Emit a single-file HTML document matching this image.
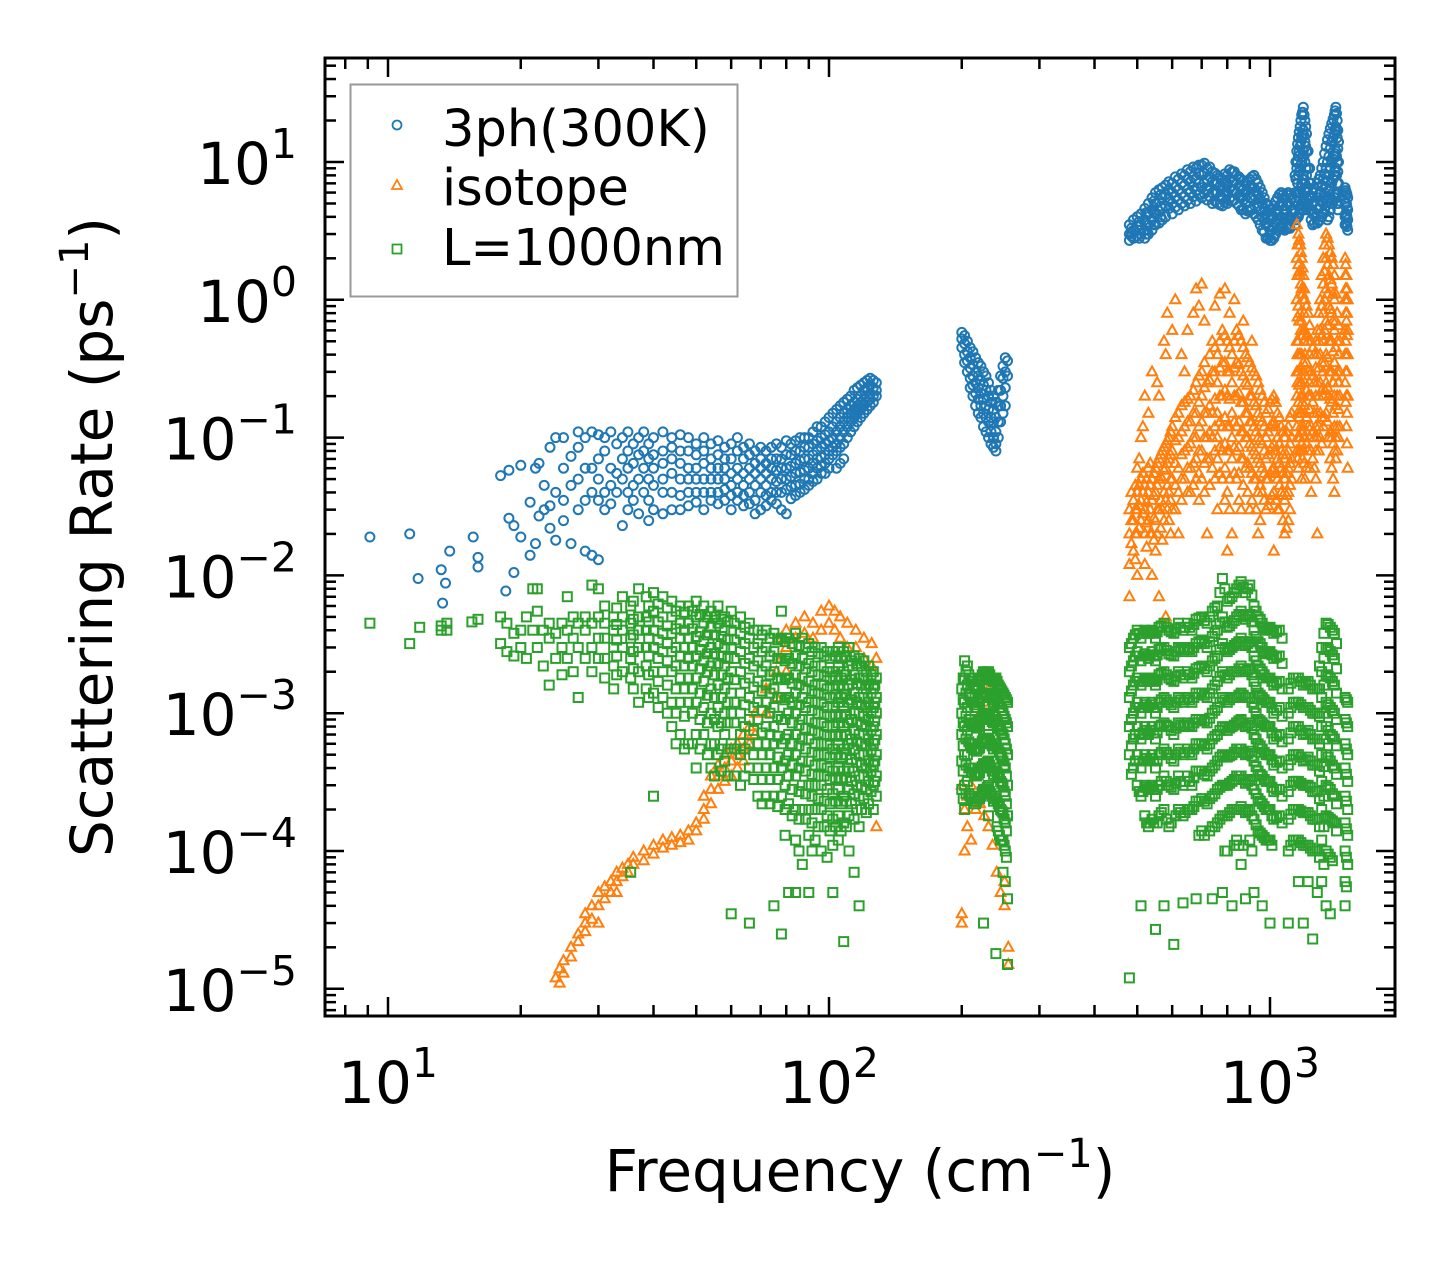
<!DOCTYPE html>
<html><head><meta charset="utf-8"><style>
html,body{margin:0;padding:0;background:#fff;}
svg{display:block;font-family:"DejaVu Sans","Liberation Sans",sans-serif;}
</style></head><body>
<svg id="chart" width="1455" height="1265" viewBox="0 0 1455 1265" xmlns="http://www.w3.org/2000/svg">
<rect width="1455" height="1265" fill="#fff"/>
<g id="marks"></g>
<g id="axes"></g>
<g id="legend">
  <rect x="350.5" y="84.5" width="387" height="212" fill="#fff" fill-opacity="0.8" stroke="#999" stroke-width="2"/>
  <g>
    <circle cx="397" cy="125" r="4.5" fill="none" stroke="#1f77b4" stroke-width="1.8"/>
    <text x="442" y="146" font-size="51">3ph(300K)</text>
  </g>
  <g>
    <polygon points="397,180 402,189 392,189" fill="none" stroke="#ff7f0e" stroke-width="1.8"/>
    <text x="442" y="205" font-size="51">isotope</text>
  </g>
  <g>
    <rect x="392.5" y="244.5" width="9" height="9" fill="none" stroke="#2ca02c" stroke-width="1.8"/>
    <text x="442" y="265" font-size="51">L=1000nm</text>
  </g>
</g>
<text x="860" y="1191" font-size="58" text-anchor="middle">Frequency (cm<tspan font-size="40" dy="-24">−1</tspan><tspan dy="24">)</tspan></text>
<text transform="translate(112,537) rotate(-90)" x="0" y="0" font-size="58" text-anchor="middle">Scattering Rate (ps<tspan font-size="40" dy="-24">−1</tspan><tspan dy="24">)</tspan></text>
</svg>
<script>
const xTickValues=[10,100,1000];
const xTickExps=["1","2","3"];
const yTickValues=[1e1,1e0,1e-1,1e-2,1e-3,1e-4,1e-5];
const yTickExps=["1","0","−1","−2","−3","−4","−5"];
const threephData=[[9.1,[.019]],[11.2,[.02]],[11.7,[.0095]],[13.2,[.011]],[13.3,[.0063]],[13.5,[.0088]],[13.8,[.015]],[15.6,[.019]],[16,[.0135,.0115]],[18,[.053]],[18.5,[.0077]],[18.8,[.058,.026]],[19.3,[.023,.0105]],[20,[.063,.019]],[21,[.014,.034]],[21.6,[.06,.017]],[22,[.027,.065]],[22.6,[.03,.045]],[23.3,[.085,.032,.022]],[24,[.1,.04,.018]],[25,[.1,.025,.06,.035]],[26,[.073,.045,.017]],[27,[.11,.085,.05,.03]],[28,[.1,.035,.015,.06]],[29,[.11,.06,.04,.014]],[30,[.105,.07,.05,.035,.013]],
[31,[.1,.08,.04,.03]],[32,[.11,.06,.045,.033]],[33,[.09,.055,.04]],[34,[.1,.07,.05,.023]],[35,[.11,.08,.06,.04,.03]],[36,[.09,.065,.045,.035]],[37,[.1,.075,.05,.028]],[38,[.11,.08,.06,.04]],[39,[.09,.07,.05,.035,.025]],[40,[.1,.075,.06,.045,.03]],[42,[.11,.08,.065,.05,.04,.028]],[44,[.1,.085,.07,.055,.04,.03]],[46,[.105,.08,.065,.05,.038,.03]],[48,[.1,.08,.06,.05,.04,.032]],[50,[.09,.075,.06,.05,.04,.034]],[52,[.1,.08,.065,.05,.04,.03]],[54,[.09,.07,.06,.05,.04,.035]],[56,[.095,.075,.06,.05,.04,.033]],[58,[.085,.07,.06,.05,.042,.035]],[60,[.09,.07,.055,.045,.038,.03]],[62,[.1,.08,.06,.05,.04,.035]],[64,[.085,.07,.055,.045,.038,.032]],[66,[.09,.075,.06,.05,.04,.033]],[68,[.08,.065,.055,.045,.035,.028]],[70,[.085,.07,.06,.05,.04,.03]],[72,[.08,.065,.055,.045,.038,.032]],[74,[.085,.07,.06,.05,.04,.035]],[76,[.09,.07,.058,.048,.04,.033]],[78,[.085,.07,.06,.05,.04,.03]],[80,[.095,.075,.06,.05,.042,.028]],[82,[.09,.075,.062,.052,.044,.036]],[84,[.095,.08,.065,.055,.045,.038]],[86,[.1,.08,.068,.056,.046,.04]],[88,[.1,.085,.07,.058,.05,.042]],
[90,[.1,.085,.07,.06,.05,.045]],[92,[.11,.09,.075,.065,.055,.048]],[94,[.12,.095,.08,.07,.06,.05]],[96,[.12,.1,.085,.072,.062,.055]],[98,[.13,.105,.09,.075,.065,.055]],[100,[.14,.11,.095,.08,.07,.06]],[102,[.15,.12,.1,.085,.075]],[104,[.16,.13,.11,.09,.08,.06]],[106,[.17,.14,.12,.1,.085,.065]],[108,[.18,.15,.13,.11,.09,.07]],[110,[.19,.16,.14,.12,.1]],[112,[.2,.17,.15,.13,.11]],[114,[.22,.18,.16,.14,.12]],[116,[.23,.19,.17,.15,.13]],[118,[.24,.2,.18,.16,.14]],[120,[.25,.22,.19,.17,.15]],[122,[.26,.23,.2,.18,.16]],[124,[.27,.24,.21,.19,.17]],[126,[.26,.23,.2,.18]],[128,[.25,.22,.2]],
[200,[.58,.52,.45]],[203,[.55,.48,.4,.35]],[206,[.5,.42,.36,.3]],[209,[.45,.38,.32,.27,.23]],[212,[.42,.34,.28,.24,.2]],[215,[.38,.3,.25,.21,.17]],[218,[.35,.28,.23,.19,.15]],[221,[.33,.26,.21,.17,.14]],[224,[.3,.24,.19,.15,.12]],[227,[.28,.22,.17,.14,.11]],[230,[.25,.2,.16,.13,.1]],[233,[.22,.18,.14,.11,.09]],[236,[.2,.16,.13,.1,.085]],[239,[.18,.14,.11,.09,.08]],[242,[.22,.17,.13,.1]],[245,[.28,.22,.17,.13]],[248,[.33,.27,.2,.15]],[251,[.38,.3,.23,.17]],[254,[.36,.28]],
[480,[3.5,3,2.7]],[490,[3.8,3.2,2.8]],[500,[4,3.4,2.9]],[510,[4.2,3.5,3]],[520,[4.6,3.8,3.2,2.8]],[530,[5,4.2,3.5,3]],[540,[5.5,4.5,3.8,3.2]],[550,[6,5,4.2,3.5]],[560,[6.3,5.2,4.4,3.6]],[570,[6.5,5.5,4.6,3.8]],[580,[6.8,5.8,4.8,4]],[600,[7,6,5,4.2]],[620,[7.5,6.3,5.3,4.5]],[640,[8,6.8,5.6,4.8]],[660,[8.5,7.2,6,5]],[680,[9,7.5,6.2,5.2]],[700,[9.5,8,6.5,5.5]],[720,[9,7.5,6.3,5.3]],[740,[8.5,7.2,6,5]],[760,[8,7,6,5]],[780,[7.5,6.5,5.5,4.8]],[800,[8,7,6,5]],[820,[8.5,7.2,6.2,5.2]],[840,[8,7,6,5]],[860,[7.5,6.5,5.5,4.5]],[880,[7,6,5,4.2]],[900,[7.5,6.5,5.5,4.5]],[920,[8,6.5,5.3,4.2]],[940,[7,5.8,4.8,3.8]],[960,[6,5,4,3.2]],[980,[5,4.2,3.5,2.8]],[1000,[4.5,3.8,3.2,2.7]],[1020,[4.8,4,3.3,2.8]],[1040,[5.5,4.5,3.8,3.2]],[1060,[6,5,4,3.4]],[1080,[5.5,4.5,3.8,3.2]],[1100,[6,5,4,3.3]],[1120,[5.5,4.5,3.8]],
[1140,[8,6,4.5,3.5]],[1150,[12,9,6,4]],[1160,[15,11,8,5.5,4]],[1170,[18,13,9,6,4.5]],[1180,[22,15,10,7,5]],[1190,[25,17,12,8,5.5]],[1200,[20,14,10,7,5]],[1210,[16,12,8,6,4.5]],[1220,[12,9,6.5,5]],[1230,[9,7,5.5,4.5]],[1240,[7,5.5,4.5,3.8]],[1250,[6,5,4.2,3.5]],[1260,[6.5,5.2,4.3,3.6]],[1280,[7,5.5,4.5,3.6]],[1300,[8,6,4.8,3.8]],[1320,[10,7.5,5.5,4.2]],[1340,[13,9,6.5,4.8]],[1360,[16,11,8,5.5,4]],[1380,[19,14,10,7,5]],[1400,[22,16,11,8,5.5]],[1410,[25,18,12,9,6]],[1420,[20,15,10,7,5]],[1430,[14,10,7,5]],[1480,[6.5,5,4,3.5]],[1490,[6,5,4.2,3.6]],[1500,[5.5,4.5,3.8,3.2]]];
const threephExtra=[[485,[3.3,3.1,2.9]],[505,[3.7,3.2,2.8]],[525,[4.3,3.6,3]],[545,[5.2,4.3,3.5]],[565,[5.8,4.8,4]],[590,[7.2,6.3,5.4,4.6]],[610,[7.8,6.6,5.6,4.7]],[630,[8.2,7,5.9,5]],[650,[8.8,7.5,6.3,5.3]],[670,[9.2,7.8,6.6,5.6]],[690,[9.5,8.2,7,5.8]],[710,[9.8,8.3,7,5.9]],[730,[9.2,7.8,6.6,5.6]],[750,[8.3,7.1,6.1,5.2]],[770,[7.7,6.6,5.6,4.9]],[790,[8.2,7,6,5.1]],[810,[8.8,7.5,6.4,5.4]],[830,[8.5,7.3,6.2,5.3]],[850,[7.8,6.7,5.7,4.8]],[870,[7.3,6.3,5.3,4.5]],[890,[7.2,6.2,5.2,4.4]],[910,[7.8,6.6,5.5,4.5]],[930,[7.5,6.2,5,4]],[950,[6.5,5.4,4.4,3.5]],[970,[5.5,4.6,3.8,3.1]],[990,[4.8,4,3.4,2.8]],[1010,[4.6,3.9,3.2,2.7]],[1030,[5.2,4.3,3.6,3]],[1050,[5.8,4.8,3.9,3.3]],[1070,[5.8,4.8,3.9,3.3]],[1090,[5.8,4.8,3.9,3.3]],[1110,[5.8,4.8,3.9,3.3]],[1145,[10,7.5,5.2,3.8]],[1155,[13.5,10,7,4.8]],[1165,[16.5,12,8.5,6,4.2]],[1175,[20,14,9.5,6.5,4.8]],[1185,[23,16,11,7.5,5.2]],[1195,[22,15.5,11,7.5,5.2]],[1205,[18,13,9,6.5,4.8]],[1290,[7.5,5.8,4.6,3.7]],[1310,[9,6.8,5.2,4]],[1330,[11.5,8.2,6,4.5]],[1350,[14.5,10,7.2,5.2,3.8]],[1370,[17.5,12.5,9,6.2,4.5]],[1390,[20.5,15,10.5,7.5,5.2]],[1405,[23.5,17,11.5,8.5,5.8]],[1415,[22.5,16.5,11,8,5.5]],[1425,[17,12.5,8.5,6,4.5]],[1485,[6.2,5,4.1,3.5]],[1495,[5.8,4.7,4,3.4]]];
const isotopeData=[[24,[1.2e-5]],[24.5,[1.1e-5,1.4e-5]],[25,[1.6e-5,1.3e-5]],[26,[2e-5,1.7e-5]],[27,[2.5e-5,2.2e-5]],[28,[3e-5,2.6e-5,3.5e-5]],[29,[4e-5,3.2e-5]],[30,[5e-5,4e-5,3e-5]],[31,[5.5e-5,4.5e-5]],[32,[6e-5,5e-5]],[33,[7e-5,6e-5,5e-5]],[34,[7.5e-5,6.5e-5]],[35,[8e-5,7e-5]],[36,[9e-5,8e-5]],[38,[1e-4,8.5e-5]],[40,[1.1e-4,9.5e-5]],[42,[1.2e-4,1.05e-4]],[44,[1.25e-4,1.1e-4]],[46,[1.3e-4,1.15e-4]],[48,[1.4e-4,1.2e-4]],[50,[1.6e-4,1.4e-4]],[52,[2.5e-4,2e-4,1.7e-4]],[54,[3.5e-4,2.8e-4,2.2e-4]],[56,[4.2e-4,3.5e-4,2.8e-4]],[58,[5e-4,4e-4,3.2e-4]],[60,[5.5e-4,4.5e-4,3.5e-4]],[62,[6e-4,5e-4,4e-4]],[64,[7e-4,5.5e-4,4.5e-4]],[66,[8e-4,6e-4]],[68,[1e-3,7e-4]],[72,[1.5e-3,1e-3]],[76,[2e-3,1.3e-3]],[78,[3.5e-3,2.5e-3]],[80,[4e-3,3e-3,2e-3]],[84,[4.5e-3,3.5e-3]],[88,[5e-3,3.8e-3]],[92,[4.5e-3,3.5e-3]],[96,[5.5e-3,4e-3]],[100,[6e-3,4.5e-3]],[103,[5.5e-3,4e-3]],[106,[5e-3,3.5e-3]],[110,[4.5e-3,3e-3]],[115,[4e-3,3e-3]],[120,[3.5e-3,2.5e-3]],[125,[3.2e-3,2.2e-3]],[128,[2.5e-3,1.5e-4]],
[200,[3.5e-5,3e-5,3e-4]],[203,[1e-4,2e-4]],[206,[2.5e-4,1.5e-4]],[210,[1.2e-4,3e-4]],[215,[2e-4,8e-4]],[220,[2.2e-4,1e-3]],[225,[1.8e-4,1.2e-3]],[230,[1.5e-4,1.5e-3]],[235,[1.1e-4,1.3e-3]],[240,[7e-5,1e-3]],[245,[5e-5,8e-4]],[250,[4e-5,6e-5]],[255,[2e-5,1.5e-5]],
[480,[.02,.012,.007,.03]],[490,[.035,.025,.015]],[500,[.04,.03,.02,.06,.01]],[510,[.05,.035,.025,.1]],[520,[.045,.03,.02,.2,.012]],[530,[.06,.04,.025,.15]],[540,[.05,.035,.02,.3,.01]],[550,[.06,.04,.025,.015]],[560,[.07,.05,.03,.2,.007]],[570,[.08,.05,.03,.018]],[580,[.09,.06,.035,.4,.005]],[590,[.1,.07,.04,.025]],[600,[.12,.08,.05,.03,.6]],[620,[.15,.1,.06,.04,.02]],[640,[.18,.12,.08,.05,.3]],[660,[.2,.13,.09,.06,.04]],[680,[.25,.15,.1,.07,.05,1.2]],[700,[.3,.2,.13,.08,.05,1.3]],[720,[.25,.15,.1,.07,.02]],[740,[.5,.3,.15,.1,.06]],[760,[.4,.25,.15,.1,.07,.03]],[780,[.6,.35,.2,.12,.08,.05]],[800,[.5,.3,.2,.12,.08,.04,.015]],[820,[.4,.25,.15,.1,.07,.02]],[840,[.6,.35,.2,.12,.08,.05]],[860,[.5,.3,.18,.11,.07,.03]],[880,[.4,.25,.15,.1,.06]],[900,[.35,.2,.13,.09,.06,.03]],[920,[.3,.18,.12,.08,.05]],[940,[.25,.15,.1,.07,.04,.02]],[960,[.2,.13,.09,.06,.04]],[980,[.15,.1,.07,.05,.03]],[1000,[.18,.12,.08,.055,.035]],[1020,[.2,.13,.09,.06,.04,.015]],[1040,[.15,.1,.07,.05,.03]],[1060,[.12,.08,.06,.04]],[1080,[.1,.07,.05,.035,.02]],[1100,[.12,.08,.06,.04,.025]],[1120,[.15,.1,.07,.05]],
[1150,[3.5,2,1,.5,.3,.2,.12,.08]],[1160,[3,1.8,.9,.5,.3,.18,.1,.06]],[1170,[2.5,1.5,.8,.4,.25,.15,.1]],[1180,[2,1.2,.7,.4,.25,.15,.09,.05]],[1190,[1.5,1,.6,.35,.2,.12,.08]],[1200,[1,.6,.4,.25,.15,.1,.05]],[1220,[.8,.5,.3,.2,.12,.08]],[1240,[.5,.3,.2,.12,.08,.04]],[1260,[.4,.25,.15,.1,.06]],[1280,[.6,.4,.25,.15,.1,.02]],[1300,[1,.6,.4,.25,.15,.1]],[1320,[2,1.3,.8,.5,.3,.2,.12]],[1340,[3,2,1.2,.7,.4,.25,.15]],[1360,[2.5,1.5,.9,.5,.3,.2,.1]],[1380,[2,1.3,.8,.5,.3,.18,.1,.06]],[1400,[1.5,1,.6,.35,.2,.12,.08,.04]],[1420,[.8,.5,.3,.2,.12,.08]],[1440,[.5,.3,.2,.12]],[1480,[2,1.5,1,.6,.4,.25]],[1490,[1.5,1,.7,.4,.2,.12]],[1500,[1,.6,.4,.2,.06]]];
const isotopeExtra=[[485,[.025,.017,.04]],[495,[.03,.02,.045,.013]],[505,[.045,.032,.022,.07]],[515,[.055,.04,.028,.12]],[525,[.05,.034,.024,.016]],[535,[.065,.045,.03,.02]],[545,[.055,.038,.026,.018]],[555,[.065,.045,.03,.02,.25]],[565,[.075,.052,.035,.022]],[575,[.085,.058,.04,.025,.5]],[585,[.095,.065,.045,.03,.8]],[595,[.11,.075,.05,.035,.02]],[610,[.14,.095,.065,.045,.03,1]],[630,[.17,.11,.075,.05,.035,.4]],[650,[.19,.13,.085,.06,.04,.6]],[670,[.22,.15,.1,.065,.045,.8]],[690,[.28,.18,.12,.08,.055,.035,.9]],[710,[.35,.23,.15,.1,.065,.04,.7]],[730,[.4,.26,.17,.11,.07,.045]],[750,[.45,.3,.19,.12,.08,.05,.9]],[770,[.5,.32,.2,.13,.085,.055,1.1]],[790,[.55,.35,.22,.14,.09,.06,.035,1.2]],[810,[.45,.3,.19,.12,.08,.05,.03,.8]],[830,[.5,.32,.2,.13,.085,.055,1]],[850,[.55,.34,.21,.13,.085,.055,.035]],[870,[.45,.28,.18,.11,.07,.045,.7]],[890,[.38,.24,.15,.1,.065,.04]],[910,[.32,.2,.13,.085,.055,.035,.5]],[930,[.28,.17,.11,.075,.05,.03]],[950,[.22,.14,.095,.065,.045,.025]],[970,[.18,.12,.08,.055,.035]],[990,[.16,.11,.075,.05,.032]],[1010,[.19,.125,.085,.058,.038]],[1030,[.18,.12,.08,.055,.035]],[1050,[.14,.09,.065,.045,.03]],[1070,[.11,.075,.055,.038,.025]],[1090,[.11,.075,.055,.038,.022]],[1110,[.14,.09,.065,.045,.03]],[1155,[2.5,1.5,.75,.4,.25,.15,.1,.07]],[1165,[2.7,1.6,.7,.4,.24,.14,.08]],[1175,[2.2,1.3,.6,.32,.2,.12,.08]],[1185,[1.7,1.1,.55,.3,.18,.11,.07]],[1195,[1.2,.8,.5,.3,.17,.1,.065]],[1210,[.9,.55,.35,.22,.14,.09,.06]],[1230,[.65,.4,.25,.16,.1,.06]],[1250,[.45,.28,.18,.11,.07]],[1270,[.5,.32,.2,.12,.08,.05]],[1290,[.8,.5,.32,.2,.12,.08]],[1310,[1.5,.9,.55,.35,.22,.14,.09]],[1330,[2.5,1.6,1,.6,.35,.22,.14]],[1350,[2.8,1.8,1.1,.65,.38,.23,.13]],[1370,[2.2,1.4,.85,.5,.3,.19,.11,.07]],[1390,[1.8,1.1,.7,.42,.25,.15,.09,.05]],[1410,[1.1,.7,.45,.28,.17,.1,.07]],[1430,[.65,.4,.25,.16,.1]],[1485,[1.8,1.2,.8,.5,.3,.18]],[1495,[1.2,.8,.55,.3,.15,.09]]];
const boundaryData=[[9.1,[4.5e-3]],[11.2,[3.2e-3]],[11.8,[4.2e-3]],[13.2,[4e-3,4.3e-3]],[13.6,[4.5e-3,4e-3]],[15.5,[4.6e-3]],[16,[4.8e-3]],[18,[3.2e-3,5e-3]],[18.6,[2.8e-3,4.5e-3]],[19.3,[2.6e-3,3.8e-3]],[20,[4e-3,3e-3]],[20.6,[5e-3,2.5e-3]],[21.3,[8e-3,4e-3]],[21.8,[8e-3,5.5e-3,3e-3]],[22.5,[4e-3,2.2e-3]],[23.2,[4.5e-3,3.5e-3,1.6e-3]],[24,[3.8e-3,2.5e-3]],[24.8,[4.5e-3,3e-3,1.9e-3]],[25.5,[7e-3,4e-3,2.5e-3]],[26.3,[5e-3,3.5e-3,2e-3]],[27,[4.5e-3,3e-3,1.3e-3]],[28,[5e-3,4e-3,2.5e-3]],[29,[8.5e-3,4.5e-3,3e-3,2e-3]],[30,[8e-3,5e-3,3.5e-3,2.5e-3]],
[31,[6e-3,4.5e-3,3.5e-3,2.5e-3,1.8e-3]],[32.5,[5e-3,4e-3,3e-3,2.2e-3,1.5e-3]],[34,[7e-3,5e-3,4e-3,3e-3,2e-3]],[35.5,[6e-3,4.5e-3,3.5e-3,2.5e-3,1.8e-3,7e-5]],[37,[8e-3,5e-3,4e-3,3e-3,2e-3,1.2e-3]],[38.5,[7e-3,5e-3,4e-3,3e-3,2.2e-3,1.5e-3]],[40,[7.5e-3,5.5e-3,4e-3,3e-3,2e-3,1.4e-3,2.5e-4]],[42,[7e-3,5e-3,3.8e-3,2.8e-3,2e-3,1.3e-3]],[44,[6.5e-3,5e-3,3.8e-3,2.8e-3,2e-3,1.2e-3,8e-4]],[46,[6e-3,4.5e-3,3.5e-3,2.6e-3,1.8e-3,1.2e-3,7e-4]],[48,[6e-3,4.5e-3,3.5e-3,2.5e-3,1.8e-3,1.2e-3,6e-4]],[50,[6.5e-3,5e-3,3.6e-3,2.6e-3,1.8e-3,1.2e-3,7e-4,4e-4]],[52,[6e-3,4.5e-3,3.3e-3,2.4e-3,1.7e-3,1.1e-3,7e-4]],[54,[5.5e-3,4.2e-3,3e-3,2.2e-3,1.5e-3,1e-3,6e-4,4e-4]],[56,[6e-3,4.5e-3,3.2e-3,2.3e-3,1.6e-3,1.1e-3,8e-4,5e-4]],[58,[5e-3,4e-3,3e-3,2.2e-3,1.5e-3,1e-3,7e-4,4.5e-4]],[60,[5.5e-3,4e-3,3e-3,2e-3,1.4e-3,1e-3,6e-4,3.5e-5]],[63,[5e-3,3.8e-3,2.8e-3,2e-3,1.4e-3,1e-3,7e-4,5e-4,3e-4]],[66,[4.5e-3,3.5e-3,2.5e-3,1.8e-3,1.3e-3,9e-4,6e-4,4e-4,3e-5]],[69,[4e-3,3.2e-3,2.4e-3,1.7e-3,1.2e-3,9e-4,6e-4,4e-4,2.5e-4]],[72,[4e-3,3e-3,2.2e-3,1.6e-3,1.2e-3,8e-4,6e-4,4e-4,2.5e-4]],[75,[3.8e-3,2.8e-3,2e-3,1.5e-3,1.1e-3,8e-4,6e-4,4e-4,2.5e-4,4e-5]],[78,[5.5e-3,3.5e-3,2.5e-3,1.8e-3,1.3e-3,9e-4,6e-4,4e-4,2.5e-4,2.5e-5]],[81,[3.5e-3,2.5e-3,1.8e-3,1.3e-3,1e-3,7e-4,5e-4,3.5e-4,2.2e-4,5e-5]],[84,[3.8e-3,2.6e-3,1.9e-3,1.4e-3,1e-3,7e-4,5e-4,3.5e-4,2e-4,1.2e-4,5e-5]],[87,[3.5e-3,2.5e-3,1.8e-3,1.3e-3,9e-4,6.5e-4,4.5e-4,3e-4,2e-4,8e-5]],[90,[3.2e-3,2.3e-3,1.7e-3,1.2e-3,9e-4,6.5e-4,4.5e-4,3e-4,2e-4,1.3e-4,5e-5]],[93,[3e-3,2.2e-3,1.6e-3,1.2e-3,8.5e-4,6e-4,4.2e-4,3e-4,2e-4,1.2e-4]],[96,[3e-3,2.2e-3,1.6e-3,1.2e-3,8.5e-4,6e-4,4.2e-4,3e-4,2e-4,1e-4]],[99,[2.8e-3,2e-3,1.5e-3,1.1e-3,8e-4,6e-4,4e-4,2.8e-4,1.8e-4,9e-5]],[102,[2.8e-3,2e-3,1.5e-3,1.1e-3,8e-4,5.5e-4,3.8e-4,2.6e-4,1.7e-4,1.1e-4,5e-5]],[105,[3e-3,2.2e-3,1.6e-3,1.2e-3,8.5e-4,6e-4,4e-4,2.8e-4,1.8e-4,1.2e-4]],[108,[2.8e-3,2e-3,1.5e-3,1.1e-3,8e-4,5.5e-4,3.8e-4,2.5e-4,1.6e-4,2.2e-5]],[111,[3e-3,2.2e-3,1.6e-3,1.2e-3,8.5e-4,6e-4,4e-4,2.8e-4,1.8e-4,1e-4]],[114,[2.6e-3,1.9e-3,1.4e-3,1e-3,7.5e-4,5.5e-4,3.8e-4,2.6e-4,1.7e-4,7e-5]],[117,[2.5e-3,1.8e-3,1.3e-3,1e-3,7e-4,5e-4,3.5e-4,2.5e-4,1.5e-4,4e-5]],[120,[2.4e-3,1.8e-3,1.3e-3,9.5e-4,7e-4,5e-4,3.5e-4,2.4e-4]],[123,[2.2e-3,1.6e-3,1.2e-3,9e-4,6.5e-4,4.5e-4,3.2e-4,2.2e-4]],[126,[2e-3,1.5e-3,1.1e-3,8e-4,6e-4,4.2e-4,3e-4,2e-4]],[128,[1.8e-3,1.3e-3,1e-3,7e-4,5e-4,3.5e-4,2.5e-4]],
[200,[1.5e-3,1e-3,7e-4,4.5e-4,2.8e-4]],[203,[2.4e-3,1.8e-3,1.2e-3,8e-4,5e-4,3e-4,2e-4]],[206,[2.2e-3,1.6e-3,1.1e-3,7.5e-4,5e-4,3.2e-4]],[209,[1.8e-3,1.3e-3,9e-4,6e-4,4e-4,2.5e-4]],[212,[1.6e-3,1.2e-3,8.5e-4,6e-4,4e-4]],[215,[1.5e-3,1.1e-3,8e-4,5.5e-4,3.5e-4,2.2e-4]],[218,[1.6e-3,1.2e-3,8e-4,5.5e-4,3.6e-4,2.4e-4]],[221,[1.8e-3,1.3e-3,9e-4,6e-4,4e-4,2.5e-4]],[224,[2e-3,1.4e-3,1e-3,6.5e-4,4.3e-4,2.8e-4,3e-5]],[227,[1.9e-3,1.4e-3,9.5e-4,6.5e-4,4.3e-4,2.8e-4]],[230,[2e-3,1.5e-3,1e-3,7e-4,4.5e-4,3e-4,1.8e-4]],[233,[1.8e-3,1.3e-3,9e-4,6e-4,4e-4,2.6e-4]],[236,[1.7e-3,1.2e-3,8.5e-4,5.5e-4,3.6e-4,2.3e-4]],[239,[1.8e-3,1.3e-3,9e-4,6e-4,4e-4,2.5e-4,1.8e-5]],[242,[1.6e-3,1.2e-3,8e-4,5.5e-4,3.5e-4,2.2e-4,1.4e-4]],[245,[1.5e-3,1.1e-3,7.5e-4,5e-4,3.2e-4,2e-4,1.2e-4]],[248,[1.4e-3,1e-3,7e-4,4.5e-4,3e-4,1.9e-4,1.2e-4,7e-5]],[251,[1.3e-3,9e-4,6e-4,4e-4,2.5e-4,1.6e-4,1e-4,6e-5]],[254,[1.2e-3,8e-4,5e-4,3e-4,1.8e-4,4.5e-5,1.5e-5]],
[480,[3e-3,2e-3,1.3e-3,8e-4,5e-4,1.2e-5]],[490,[3.5e-3,2.4e-3,1.6e-3,1e-3,6.5e-4,4e-4]],[500,[4e-3,2.8e-3,1.8e-3,1.2e-3,8e-4,5e-4,3e-4]],[510,[3.5e-3,2.4e-3,1.6e-3,1e-3,6.5e-4,4e-4,2.5e-4,4e-5]],[520,[4e-3,2.7e-3,1.8e-3,1.2e-3,8e-4,5e-4,3e-4,1.8e-4]],[530,[3.8e-3,2.5e-3,1.7e-3,1.1e-3,7e-4,4.5e-4,2.8e-4,1.5e-4]],[540,[4e-3,2.8e-3,1.8e-3,1.2e-3,8e-4,5e-4,3e-4,1.7e-4]],[550,[3.5e-3,2.4e-3,1.6e-3,1e-3,6.5e-4,4e-4,2.5e-4,2.7e-5]],[560,[4.2e-3,2.9e-3,1.9e-3,1.2e-3,8e-4,5e-4,3e-4,1.8e-4]],[575,[4.5e-3,3e-3,2e-3,1.3e-3,8.5e-4,5.5e-4,3.5e-4,2e-4,4e-5]],[590,[4e-3,2.7e-3,1.8e-3,1.2e-3,8e-4,5e-4,3e-4,1.5e-4]],[605,[3.8e-3,2.6e-3,1.7e-3,1.1e-3,7e-4,4.5e-4,2.8e-4,2.1e-5]],[620,[4.5e-3,3e-3,2e-3,1.3e-3,8.5e-4,5.5e-4,3.5e-4,2e-4]],[635,[4e-3,2.8e-3,1.8e-3,1.2e-3,8e-4,5e-4,3e-4,1.8e-4,4.2e-5]],[650,[4.5e-3,3e-3,2e-3,1.3e-3,8.5e-4,5.5e-4,3.5e-4,2e-4]],[665,[4e-3,2.8e-3,1.8e-3,1.2e-3,8e-4,5e-4,3e-4,2e-4]],[680,[4.8e-3,3.2e-3,2.1e-3,1.4e-3,9e-4,6e-4,3.8e-4,2.3e-4,4.5e-5]],[700,[5e-3,3.4e-3,2.2e-3,1.4e-3,9e-4,6e-4,3.8e-4,2.4e-4,1.4e-4]],[720,[4.5e-3,3e-3,2e-3,1.3e-3,8.5e-4,5.5e-4,3.5e-4,2.2e-4]],[740,[5.5e-3,3.6e-3,2.4e-3,1.5e-3,1e-3,6.5e-4,4e-4,2.5e-4,1.5e-4,4.5e-5]],[760,[6e-3,4e-3,2.6e-3,1.7e-3,1.1e-3,7e-4,4.5e-4,2.8e-4,1.6e-4]],[780,[9.5e-3,5e-3,3.2e-3,2e-3,1.3e-3,8e-4,5e-4,3e-4,1.8e-4,5e-5]],[800,[6.5e-3,4.2e-3,2.8e-3,1.8e-3,1.2e-3,7.5e-4,4.8e-4,3e-4,1.8e-4,1e-4]],[820,[7e-3,4.5e-3,3e-3,2e-3,1.3e-3,8e-4,5e-4,3.2e-4,2e-4,4e-5]],[840,[8e-3,5e-3,3.2e-3,2e-3,1.3e-3,8.5e-4,5.5e-4,3.5e-4,2e-4,1.2e-4]],[860,[9e-3,5.5e-3,3.5e-3,2.2e-3,1.4e-3,9e-4,5.5e-4,3.5e-4,2.1e-4,8e-5]],[880,[7.5e-3,4.8e-3,3.1e-3,2e-3,1.3e-3,8e-4,5e-4,3.1e-4,1.9e-4,4.5e-5]],[900,[8.5e-3,5.2e-3,3.3e-3,2.1e-3,1.3e-3,8.5e-4,5.3e-4,3.3e-4,2e-4,1.2e-4]],[920,[6e-3,4e-3,2.6e-3,1.7e-3,1.1e-3,7e-4,4.5e-4,2.8e-4,1.7e-4,5e-5]],[940,[5e-3,3.3e-3,2.2e-3,1.4e-3,9e-4,6e-4,3.8e-4,2.4e-4,1.4e-4]],[960,[4.5e-3,3e-3,2e-3,1.3e-3,8.5e-4,5.5e-4,3.5e-4,2.2e-4,1.3e-4,4e-5]],[980,[4e-3,2.7e-3,1.8e-3,1.2e-3,8e-4,5e-4,3.2e-4,2e-4,1.2e-4]],[1000,[4.2e-3,2.8e-3,1.8e-3,1.2e-3,8e-4,5e-4,3.2e-4,2e-4,1.2e-4,3e-5]],[1020,[3.8e-3,2.5e-3,1.6e-3,1e-3,6.5e-4,4.2e-4,2.7e-4,1.7e-4]],[1050,[4e-3,2.6e-3,1.7e-3,1.1e-3,7e-4,4.5e-4,2.8e-4,1.8e-4]],[1100,[1.5e-3,1e-3,6.5e-4,4.2e-4,2.7e-4,1.7e-4,1e-4,3e-5]],[1130,[1.8e-3,1.2e-3,8e-4,5e-4,3.2e-4,2e-4,1.2e-4]],[1160,[1.8e-3,1.2e-3,8e-4,5e-4,3.2e-4,2e-4,1.2e-4,6e-5]],[1190,[1.6e-3,1.1e-3,7e-4,4.5e-4,3e-4,1.9e-4,1.1e-4,3e-5]],[1220,[1.7e-3,1.1e-3,7.5e-4,4.8e-4,3e-4,1.9e-4,1.1e-4,6e-5]],[1250,[1.5e-3,1e-3,6.5e-4,4.2e-4,2.7e-4,1.7e-4,1e-4,2.3e-5]],[1280,[1.5e-3,1e-3,6.5e-4,4.2e-4,2.7e-4,1.7e-4,1e-4,5e-5]],[1310,[3e-3,2e-3,1.3e-3,8e-4,5e-4,3.2e-4,2e-4,1.2e-4,6e-5]],[1340,[4.5e-3,3e-3,1.9e-3,1.2e-3,8e-4,5e-4,3e-4,1.8e-4,1e-4,4e-5]],[1370,[4.2e-3,2.8e-3,1.8e-3,1.1e-3,7e-4,4.5e-4,2.8e-4,1.7e-4,9e-5,3.5e-5]],[1400,[3.8e-3,2.5e-3,1.6e-3,1e-3,6.5e-4,4e-4,2.5e-4,1.6e-4]],[1480,[1.3e-3,9e-4,6e-4,4e-4,2.5e-4,1.6e-4,1e-4,6e-5,4e-5]],[1500,[1.2e-3,8e-4,5e-4,3.2e-4,2e-4,1.3e-4,8e-5]]];
const boundaryExtra=[[33,[5.8e-3,4.4e-3,3.4e-3,2.6e-3,1.9e-3]],[36,[6.5e-3,4.8e-3,3.7e-3,2.8e-3,2.1e-3,1.5e-3]],[39,[6e-3,4.6e-3,3.5e-3,2.6e-3,1.9e-3,1.3e-3]],[41,[6.2e-3,4.6e-3,3.4e-3,2.5e-3,1.7e-3,1.1e-3]],[43,[5.8e-3,4.3e-3,3.2e-3,2.4e-3,1.6e-3,1e-3]],[45,[5.5e-3,4.1e-3,3e-3,2.2e-3,1.5e-3,1e-3,6e-4]],[47,[5.4e-3,4e-3,3e-3,2.2e-3,1.5e-3,9.5e-4,5.5e-4]],[49,[5.5e-3,4.1e-3,3e-3,2.2e-3,1.5e-3,1e-3,6e-4]],[51,[5.2e-3,3.9e-3,2.9e-3,2.1e-3,1.4e-3,9e-4,5.5e-4]],[53,[5e-3,3.7e-3,2.7e-3,2e-3,1.35e-3,8.5e-4,5e-4]],[55,[5e-3,3.7e-3,2.7e-3,1.9e-3,1.3e-3,9e-4,6e-4,3.5e-4]],[57,[4.8e-3,3.6e-3,2.6e-3,1.9e-3,1.3e-3,8.5e-4,5.5e-4,3.8e-4]],[59,[4.6e-3,3.4e-3,2.5e-3,1.8e-3,1.2e-3,8.5e-4,5.5e-4,3.5e-4]],[61,[4.5e-3,3.4e-3,2.5e-3,1.75e-3,1.2e-3,8.5e-4,5.5e-4,3.5e-4]],[64.5,[4.2e-3,3.2e-3,2.3e-3,1.65e-3,1.15e-3,8e-4,5.5e-4,3.5e-4]],[67.5,[4e-3,3e-3,2.2e-3,1.55e-3,1.1e-3,7.5e-4,5e-4,3.3e-4]],[70.5,[3.7e-3,2.8e-3,2e-3,1.45e-3,1.05e-3,7.2e-4,5e-4,3.3e-4,2.2e-4]],[73.5,[3.5e-3,2.6e-3,1.9e-3,1.4e-3,1e-3,7e-4,5e-4,3.3e-4,2.2e-4]],[76.5,[3.4e-3,2.5e-3,1.8e-3,1.3e-3,9.5e-4,6.8e-4,4.8e-4,3.3e-4,2.1e-4]],[79.5,[3.3e-3,2.4e-3,1.75e-3,1.25e-3,9e-4,6.5e-4,4.5e-4,3e-4,2e-4,1.3e-4]],[82.5,[3.2e-3,2.3e-3,1.65e-3,1.2e-3,8.5e-4,6e-4,4.2e-4,2.8e-4,1.8e-4]],[85.5,[3.1e-3,2.2e-3,1.6e-3,1.15e-3,8.2e-4,5.8e-4,4e-4,2.7e-4,1.7e-4,1e-4]],[88.5,[3e-3,2.1e-3,1.5e-3,1.1e-3,7.8e-4,5.5e-4,3.8e-4,2.6e-4,1.7e-4]],[91.5,[2.8e-3,2e-3,1.45e-3,1.05e-3,7.5e-4,5.2e-4,3.6e-4,2.5e-4,1.6e-4,1e-4]],[94.5,[2.7e-3,1.9e-3,1.4e-3,1e-3,7.2e-4,5e-4,3.5e-4,2.4e-4,1.5e-4]],[97.5,[2.6e-3,1.85e-3,1.35e-3,9.8e-4,7e-4,5e-4,3.5e-4,2.3e-4,1.5e-4]],[100.5,[2.5e-3,1.8e-3,1.3e-3,9.5e-4,6.8e-4,4.8e-4,3.3e-4,2.2e-4,1.4e-4]],[103.5,[2.6e-3,1.85e-3,1.35e-3,9.8e-4,7e-4,5e-4,3.4e-4,2.3e-4,1.5e-4]],[106.5,[2.5e-3,1.8e-3,1.3e-3,9.5e-4,6.8e-4,4.8e-4,3.3e-4,2.2e-4,1.4e-4]],[109.5,[2.6e-3,1.9e-3,1.35e-3,9.8e-4,7e-4,5e-4,3.4e-4,2.3e-4,1.5e-4]],[112.5,[2.4e-3,1.75e-3,1.25e-3,9e-4,6.5e-4,4.6e-4,3.2e-4,2.2e-4]],[115.5,[2.3e-3,1.65e-3,1.2e-3,8.6e-4,6.2e-4,4.4e-4,3e-4,2e-4]],[118.5,[2.2e-3,1.6e-3,1.15e-3,8.3e-4,6e-4,4.2e-4,2.9e-4,2e-4]],[121.5,[2e-3,1.5e-3,1.1e-3,8e-4,5.8e-4,4e-4,2.8e-4,1.9e-4]],[124.5,[1.9e-3,1.4e-3,1e-3,7.5e-4,5.4e-4,3.8e-4,2.7e-4]],[127,[1.6e-3,1.2e-3,8.8e-4,6.4e-4,4.5e-4,3.2e-4]],
[201.5,[1.8e-3,1.25e-3,8.5e-4,5.8e-4,3.8e-4,2.4e-4]],[204.5,[2e-3,1.4e-3,9.5e-4,6.5e-4,4.2e-4,2.6e-4]],[207.5,[1.9e-3,1.35e-3,9e-4,6.2e-4,4e-4,2.6e-4]],[210.5,[1.7e-3,1.2e-3,8.3e-4,5.6e-4,3.7e-4,2.4e-4]],[213.5,[1.6e-3,1.15e-3,8e-4,5.4e-4,3.6e-4,2.3e-4]],[216.5,[1.55e-3,1.1e-3,7.8e-4,5.3e-4,3.5e-4,2.3e-4]],[219.5,[1.7e-3,1.2e-3,8.3e-4,5.6e-4,3.7e-4,2.4e-4]],[222.5,[1.9e-3,1.35e-3,9.3e-4,6.3e-4,4.1e-4,2.7e-4]],[225.5,[1.95e-3,1.4e-3,9.6e-4,6.5e-4,4.3e-4,2.8e-4]],[228.5,[1.95e-3,1.4e-3,9.7e-4,6.6e-4,4.4e-4,2.9e-4]],[231.5,[1.9e-3,1.35e-3,9.3e-4,6.3e-4,4.2e-4,2.7e-4]],[234.5,[1.75e-3,1.25e-3,8.7e-4,5.8e-4,3.8e-4,2.5e-4]],[237.5,[1.75e-3,1.25e-3,8.7e-4,5.8e-4,3.8e-4,2.4e-4]],[240.5,[1.7e-3,1.2e-3,8.3e-4,5.6e-4,3.7e-4,2.3e-4,1.5e-4]],[243.5,[1.55e-3,1.1e-3,7.7e-4,5.2e-4,3.4e-4,2.1e-4,1.3e-4]],[246.5,[1.45e-3,1.05e-3,7.2e-4,4.8e-4,3.1e-4,1.95e-4,1.2e-4]],[249.5,[1.35e-3,9.5e-4,6.5e-4,4.2e-4,2.7e-4,1.7e-4,1.1e-4]],[252.5,[1.25e-3,8.5e-4,5.5e-4,3.5e-4,2.2e-4,1.4e-4,9e-5]],
[485,[3.2e-3,2.2e-3,1.45e-3,9e-4,5.8e-4,3.6e-4]],[495,[3.7e-3,2.6e-3,1.7e-3,1.1e-3,7e-4,4.5e-4]],[505,[3.8e-3,2.6e-3,1.7e-3,1.1e-3,7e-4,4.5e-4,2.7e-4]],[515,[3.8e-3,2.6e-3,1.7e-3,1.1e-3,7.2e-4,4.5e-4,2.7e-4]],[525,[3.9e-3,2.6e-3,1.75e-3,1.15e-3,7.5e-4,4.7e-4,2.9e-4,1.6e-4]],[535,[3.9e-3,2.65e-3,1.75e-3,1.15e-3,7.5e-4,4.7e-4,2.9e-4,1.6e-4]],[545,[3.8e-3,2.6e-3,1.7e-3,1.1e-3,7.2e-4,4.5e-4,2.8e-4,1.6e-4]],[555,[3.9e-3,2.65e-3,1.75e-3,1.1e-3,7.2e-4,4.5e-4,2.8e-4,1.6e-4]],[567,[4.3e-3,2.95e-3,1.95e-3,1.25e-3,8.2e-4,5.2e-4,3.2e-4,1.9e-4]],[582,[4.2e-3,2.85e-3,1.9e-3,1.25e-3,8.2e-4,5.2e-4,3.2e-4,1.7e-4]],[597,[3.9e-3,2.65e-3,1.75e-3,1.15e-3,7.5e-4,4.7e-4,2.9e-4,1.6e-4]],[612,[4.1e-3,2.8e-3,1.85e-3,1.2e-3,7.8e-4,5e-4,3.1e-4,1.8e-4]],[627,[4.2e-3,2.9e-3,1.9e-3,1.25e-3,8.2e-4,5.2e-4,3.2e-4,1.9e-4]],[642,[4.2e-3,2.9e-3,1.9e-3,1.25e-3,8.2e-4,5.2e-4,3.2e-4,1.9e-4]],[657,[4.2e-3,2.9e-3,1.9e-3,1.25e-3,8.2e-4,5.2e-4,3.2e-4,2e-4]],[672,[4.4e-3,3e-3,1.95e-3,1.3e-3,8.5e-4,5.5e-4,3.4e-4,2.1e-4]],[690,[4.9e-3,3.3e-3,2.15e-3,1.4e-3,9e-4,6e-4,3.8e-4,2.3e-4,1.3e-4]],[710,[4.7e-3,3.2e-3,2.1e-3,1.35e-3,8.8e-4,5.8e-4,3.6e-4,2.3e-4,1.3e-4]],[730,[5e-3,3.3e-3,2.2e-3,1.4e-3,9.2e-4,6e-4,3.8e-4,2.4e-4,1.4e-4]],[750,[5.8e-3,3.8e-3,2.5e-3,1.6e-3,1.05e-3,6.8e-4,4.2e-4,2.6e-4,1.5e-4]],[770,[7.5e-3,4.5e-3,2.9e-3,1.85e-3,1.2e-3,7.5e-4,4.8e-4,2.9e-4,1.7e-4]],[790,[8e-3,4.6e-3,3e-3,1.9e-3,1.25e-3,7.8e-4,4.9e-4,3e-4,1.8e-4,1e-4]],[810,[6.8e-3,4.3e-3,2.9e-3,1.9e-3,1.25e-3,7.8e-4,4.9e-4,3.1e-4,1.9e-4]],[830,[7.5e-3,4.7e-3,3.1e-3,2e-3,1.3e-3,8.2e-4,5.2e-4,3.3e-4,2e-4,1.1e-4]],[850,[8.5e-3,5.2e-3,3.3e-3,2.1e-3,1.35e-3,8.8e-4,5.5e-4,3.5e-4,2e-4,1.1e-4]],[870,[8.2e-3,5.1e-3,3.3e-3,2.1e-3,1.35e-3,8.5e-4,5.2e-4,3.3e-4,2e-4,1.1e-4]],[890,[8e-3,5e-3,3.2e-3,2.05e-3,1.3e-3,8.2e-4,5.1e-4,3.2e-4,1.95e-4]],[910,[7.2e-3,4.6e-3,3e-3,1.9e-3,1.2e-3,7.8e-4,4.9e-4,3e-4,1.8e-4,1e-4]],[930,[5.5e-3,3.6e-3,2.4e-3,1.55e-3,1e-3,6.5e-4,4.1e-4,2.6e-4,1.55e-4]],[950,[4.8e-3,3.2e-3,2.1e-3,1.35e-3,8.8e-4,5.8e-4,3.6e-4,2.3e-4,1.35e-4]],[970,[4.2e-3,2.8e-3,1.9e-3,1.25e-3,8.2e-4,5.2e-4,3.3e-4,2.1e-4,1.25e-4]],[990,[4.1e-3,2.75e-3,1.8e-3,1.2e-3,8e-4,5e-4,3.2e-4,2e-4,1.2e-4]],[1010,[4e-3,2.65e-3,1.7e-3,1.1e-3,7.2e-4,4.6e-4,2.9e-4,1.8e-4,1.1e-4]],[1035,[3.9e-3,2.55e-3,1.65e-3,1.05e-3,6.8e-4,4.4e-4,2.8e-4,1.75e-4]],[1065,[3.5e-3,2.3e-3,1.5e-3,9.5e-4,6.2e-4,4e-4,2.5e-4,1.6e-4]],[1115,[1.65e-3,1.1e-3,7.2e-4,4.6e-4,3e-4,1.85e-4,1.1e-4]],[1145,[1.8e-3,1.2e-3,8e-4,5e-4,3.2e-4,2e-4,1.2e-4]],[1175,[1.7e-3,1.15e-3,7.5e-4,4.8e-4,3.1e-4,1.95e-4,1.15e-4]],[1205,[1.65e-3,1.1e-3,7.2e-4,4.6e-4,3e-4,1.9e-4,1.1e-4]],[1235,[1.6e-3,1.05e-3,7e-4,4.5e-4,2.9e-4,1.8e-4,1.05e-4]],[1265,[1.5e-3,1e-3,6.5e-4,4.2e-4,2.7e-4,1.7e-4,1e-4]],[1295,[2.2e-3,1.5e-3,9.5e-4,6e-4,3.8e-4,2.4e-4,1.5e-4,9e-5]],[1325,[3.8e-3,2.5e-3,1.6e-3,1e-3,6.5e-4,4.1e-4,2.5e-4,1.5e-4,8e-5]],[1355,[4.4e-3,2.9e-3,1.85e-3,1.15e-3,7.5e-4,4.8e-4,2.9e-4,1.75e-4,9.5e-5]],[1385,[4e-3,2.65e-3,1.7e-3,1.05e-3,6.8e-4,4.2e-4,2.6e-4,1.65e-4,8.5e-5]],[1415,[3.2e-3,2.1e-3,1.4e-3,9e-4,5.8e-4,3.6e-4,2.2e-4,1.4e-4]],[1490,[1.25e-3,8.5e-4,5.5e-4,3.6e-4,2.3e-4,1.45e-4,9e-5,5.5e-5]]];

const NS='http://www.w3.org/2000/svg';
const PL=325,PR=1395,PT=58,PB=1016;
const X10=388,XDEC=441,Y10=162,YDEC=137.8;
function xs(f){return X10+(Math.log10(f)-1)*XDEC;}
function ys(r){return Y10-(Math.log10(r)-1)*YDEC;}
function mk(tag,attrs,parent){const e=document.createElementNS(NS,tag);for(const k in attrs)e.setAttribute(k,attrs[k]);parent.appendChild(e);return e;}
const marks=document.getElementById('marks');
function drawSeries(data,shape,color,name){
  const g=mk('g',{fill:'none',stroke:color,'stroke-width':2},marks);
  
  
  data.forEach(col=>{const f=col[0];col[1].forEach(r=>{
    const x=xs(f),y=ys(r);let e;
    if(shape==='c')e=mk('circle',{cx:x.toFixed(1),cy:y.toFixed(1),r:4.5},g);
    else if(shape==='t')e=mk('polygon',{points:`${x.toFixed(1)},${(y-5.5).toFixed(1)} ${(x+5).toFixed(1)},${(y+3.5).toFixed(1)} ${(x-5).toFixed(1)},${(y+3.5).toFixed(1)}`},g);
    else e=mk('rect',{x:(x-4.5).toFixed(1),y:(y-4.5).toFixed(1),width:9,height:9},g);
    
    
  });});
}
drawSeries(threephData.concat(threephExtra),'c','#1f77b4','series-3ph');
drawSeries(isotopeData.concat(isotopeExtra),'t','#ff7f0e','series-isotope');
drawSeries(boundaryData.concat(boundaryExtra),'s','#2ca02c','series-l1000nm');

const axes=document.getElementById('axes');
function tick(x1,y1,x2,y2){const t=mk('line',{x1,y1,x2,y2,stroke:'#000','stroke-width':2.5},axes);}
for(let d=0;d<4;d++){for(let m=1;m<10;m++){const f=m*Math.pow(10,d);const x=xs(f);if(x<PL+1||x>PR-1)continue;const L=m===1?19:11;tick(x,PB,x,PB-L);tick(x,PT,x,PT+L);}}
for(let d=-6;d<2;d++){for(let m=1;m<10;m++){const r=m*Math.pow(10,d);const y=ys(r);if(y<PT+1||y>PB-1)continue;const L=m===1?19:11;tick(PL,y,PL+L,y);tick(PR,y,PR-L,y);}}
const frame=mk('rect',{x:PL,y:PT,width:PR-PL,height:PB-PT,fill:'none',stroke:'#000','stroke-width':3},axes);


xTickValues.forEach((v,i)=>{
  const t=mk('text',{x:xs(v),y:1103,'font-size':58,'text-anchor':'middle'},axes);
  
  
  t.innerHTML='10<tspan font-size="41" dy="-26">'+xTickExps[i]+'</tspan>';
});
yTickValues.forEach((v,i)=>{
  const t=mk('text',{x:297,y:ys(v)+22,'font-size':58,'text-anchor':'end'},axes);
  
  
  t.innerHTML='10<tspan font-size="41" dy="-26">'+yTickExps[i]+'</tspan>';
});
</script>
</body></html>
